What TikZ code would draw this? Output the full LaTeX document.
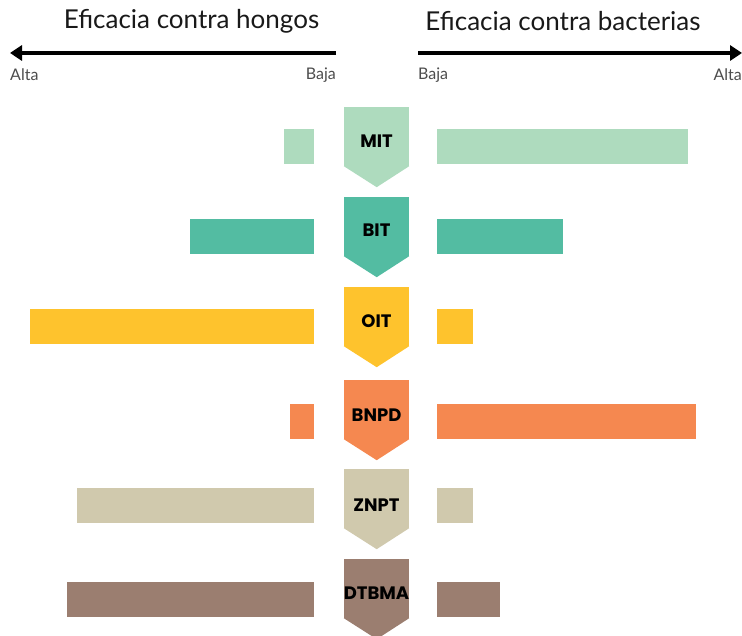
\documentclass[tikz,border=0pt]{standalone}
\usepackage{fontspec}
\setmainfont{Lato}
\newfontfamily\tagfont{Poppins}
\usepackage{tikz}
\usetikzlibrary{arrows.meta,positioning}

\definecolor{cMIT}{HTML}{AEDBBE}
\definecolor{cBIT}{HTML}{53BCA2}
\definecolor{cOIT}{HTML}{FEC32D}
\definecolor{cBNPD}{HTML}{F58850}
\definecolor{cZNPT}{HTML}{D0C9AD}
\definecolor{cDTBMA}{HTML}{9B7E70}

\begin{document}
\begin{tikzpicture}[x=1pt,y=-1pt,
    heading/.style={text=black!90, font=\fontsize{26}{29}\selectfont, inner sep=0pt},
    scalelabel/.style={text=black!70, font=\fontsize{16}{18}\selectfont, inner sep=0pt},
    axis/.style={line width=3.5pt, -{Triangle[length=12pt,width=15pt]}},
    tag/.style={rectangle, minimum width=65pt, minimum height=59pt, inner sep=0pt},
    tagname/.style={font=\tagfont\bfseries\fontsize{18}{20}\selectfont, text=black, inner sep=0pt}]
    \useasboundingbox (0,0) rectangle (742,636);

    % headings and axes
    \node[heading] (fungi) at (191.5,21) {Eficacia contra hongos};
    \node[heading] (bact) at (563,21) {Eficacia contra bacterias};
    \coordinate (fungiLow) at (336,53);
    \coordinate (fungiHigh) at (10,53);
    \coordinate (bactLow) at (418,53);
    \coordinate (bactHigh) at (742,53);
    \draw[axis] (fungiLow) -- (fungiHigh);
    \draw[axis] (bactLow) -- (bactHigh);
    \node[scalelabel, anchor=west] (fHighLbl) at (10,75) {Alta};
    \node[scalelabel, anchor=east] (fLowLbl) at (336,75) {Baja};
    \node[scalelabel, anchor=west] (bLowLbl) at (418,75) {Baja};
    \node[scalelabel, anchor=east] (bHighLbl) at (742,75) {Alta};

    % MIT
    \node[tag, fill=cMIT] (mit) at (376.5,136.5) {};
    \fill[cMIT] (mit.south west) -- (mit.south east) -- ++(-32.5,21) -- cycle;
    \node[tagname] (mitName) at (376.5,141) {MIT};
    \fill[cMIT] (284,129) rectangle (314,164);
    \fill[cMIT] (437,129) rectangle (688,164);

    % BIT
    \node[tag, fill=cBIT] (bit) at (376.5,226.5) {};
    \fill[cBIT] (bit.south west) -- (bit.south east) -- ++(-32.5,21) -- cycle;
    \node[tagname] (bitName) at (376.5,230) {BIT};
    \fill[cBIT] (190,219) rectangle (314,254);
    \fill[cBIT] (437,219) rectangle (563,254);

    % OIT
    \node[tag, fill=cOIT] (oit) at (376.5,316.5) {};
    \fill[cOIT] (oit.south west) -- (oit.south east) -- ++(-32.5,21) -- cycle;
    \node[tagname] (oitName) at (376.5,321) {OIT};
    \fill[cOIT] (30,309) rectangle (314,344);
    \fill[cOIT] (437,309) rectangle (473,344);

    % BNPD
    \node[tag, fill=cBNPD] (bnpd) at (376.5,409.5) {};
    \fill[cBNPD] (bnpd.south west) -- (bnpd.south east) -- ++(-32.5,21) -- cycle;
    \node[tagname] (bnpdName) at (376.5,415) {BNPD};
    \fill[cBNPD] (290,404) rectangle (314,439);
    \fill[cBNPD] (437,404) rectangle (696,439);

    % ZNPT
    \node[tag, fill=cZNPT] (znpt) at (376.5,498.5) {};
    \fill[cZNPT] (znpt.south west) -- (znpt.south east) -- ++(-32.5,21) -- cycle;
    \node[tagname] (znptName) at (376.5,505) {ZNPT};
    \fill[cZNPT] (77,488) rectangle (314,523);
    \fill[cZNPT] (437,488) rectangle (473,523);

    % DTBMA
    \node[tag, fill=cDTBMA] (dtbma) at (376.5,588.5) {};
    \fill[cDTBMA] (dtbma.south west) -- (dtbma.south east) -- ++(-32.5,21) -- cycle;
    \node[tagname] (dtbmaName) at (376.5,593) {DTBMA};
    \fill[cDTBMA] (67,582) rectangle (314,617);
    \fill[cDTBMA] (437,582) rectangle (500,617);
\end{tikzpicture}
\end{document}
